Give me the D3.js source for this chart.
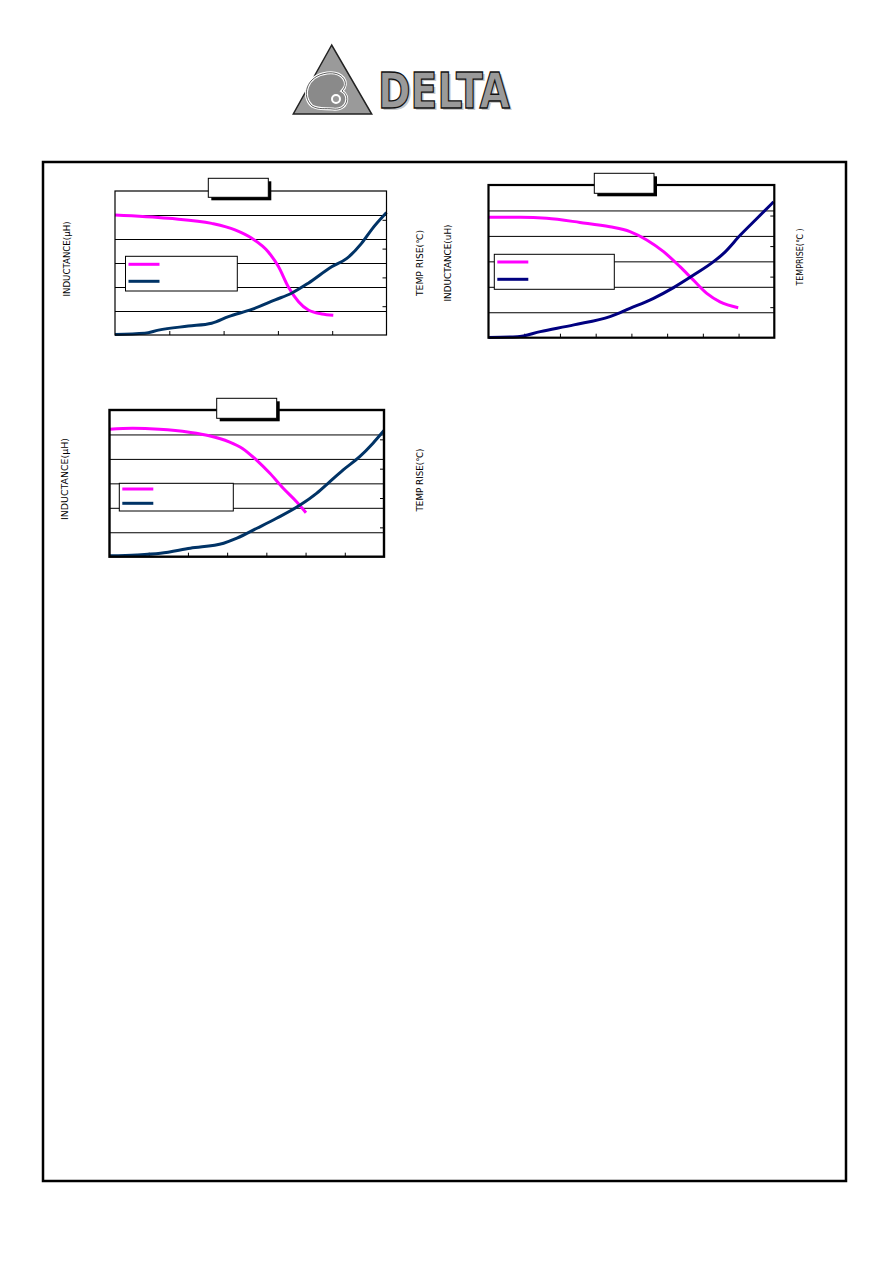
<!DOCTYPE html>
<html><head><meta charset="utf-8">
<script src="https://cdn.jsdelivr.net/npm/d3@7"></script>
<style>body{margin:0;background:#fff}svg{display:block}</style>
</head><body><svg id="c" width="892" height="1263"></svg>
<script>
// ---------- data (axis units) ----------
// Chart 1
const c1IndCurrent  = [0, 0.98, 1.78, 2.21, 2.52, 2.82, 3.01, 3.19, 3.38, 3.56, 3.81, 4.02];
const c1Inductance  = [5.0, 4.86, 4.65, 4.38, 4.03, 3.47, 2.85, 2.01, 1.39, 1.04, 0.875, 0.82];
const c1TempCurrent = [0, 0.55, 0.80, 1.35, 1.78, 2.09, 2.52, 2.95, 3.25, 3.56, 3.99, 4.27, 4.54, 4.73, 5.0];
const c1TempRise    = [0.02, 0.06, 0.17, 0.31, 0.41, 0.64, 0.89, 1.22, 1.45, 1.80, 2.37, 2.66, 3.18, 3.67, 4.25];
// Chart 2
const c2IndCurrent  = [0, 0.89, 1.63, 2.56, 3.40, 3.96, 4.43, 4.90, 5.36, 5.73, 6.11, 6.48, 6.99];
const c2Inductance  = [4.73, 4.73, 4.69, 4.53, 4.36, 4.17, 3.84, 3.38, 2.79, 2.27, 1.74, 1.41, 1.18];
const c2TempCurrent = [0, 0.8, 1.45, 2.39, 3.40, 3.96, 4.62, 5.18, 5.74, 6.30, 6.58, 7.05, 7.52, 7.98];
const c2TempRise    = [0.01, 0.03, 0.20, 0.42, 0.69, 0.96, 1.29, 1.64, 2.05, 2.49, 2.76, 3.36, 3.91, 4.45];
// Chart 3
const c3IndCurrent  = [0, 0.59, 1.27, 2.03, 2.54, 3.05, 3.39, 3.75, 4.09, 4.43, 4.77, 5.01];
const c3Inductance  = [5.21, 5.25, 5.21, 5.09, 4.95, 4.70, 4.43, 3.95, 3.41, 2.80, 2.25, 1.80];
const c3TempCurrent = [0, 0.70, 1.30, 2.06, 2.91, 3.25, 3.76, 4.26, 4.86, 5.28, 5.62, 5.96, 6.38, 6.72, 7.0];
const c3TempRise    = [0.03, 0.06, 0.12, 0.29, 0.46, 0.63, 0.97, 1.31, 1.76, 2.16, 2.56, 2.96, 3.41, 3.87, 4.30];

const leftTitles  = ["INDUCTANCE(μH)", "INDUCTANCE(uH)", "INDUCTANCE(μH)"];
const rightTitles = ["TEMP RISE(℃)", "TEMPRISE(℃ )", "TEMP RISE(℃)"];

// ---------- drawing ----------
const svg = d3.select("#c");
svg.append("rect").attr("width", 892).attr("height", 1263).attr("fill", "#fff");

// Logo
const logo = svg.append("g");
logo.append("polygon").attr("points", "331.7,45 293.3,114 371.7,114")
  .attr("fill", "#9a9a9a").attr("stroke", "#222").attr("stroke-width", 1.5);
const blob = "M312,106 C301,96 306,76 327,73 C343,71 350,83 342,91 C351,96 347,111 333,109 C325,108 319,110 312,106 Z";
logo.append("path").attr("d", blob).attr("fill", "#8a8a8a").attr("stroke", "#fff").attr("stroke-width", 3);
logo.append("path").attr("d", blob).attr("fill", "none").attr("stroke", "#333").attr("stroke-width", 0.8);
logo.append("circle").attr("cx", 336).attr("cy", 99).attr("r", 4)
  .attr("fill", "#9a9a9a").attr("stroke", "#fff").attr("stroke-width", 2);
logo.append("text").attr("x", 380).attr("y", 110)
  .attr("font-family", "DejaVu Sans").attr("font-weight", "bold").attr("font-size", 50)
  .attr("textLength", 132).attr("lengthAdjust", "spacingAndGlyphs")
  .attr("fill", "#c8c8c8").text("DELTA");
logo.append("text").attr("x", 378).attr("y", 108)
  .attr("font-family", "DejaVu Sans").attr("font-weight", "bold").attr("font-size", 50)
  .attr("textLength", 132).attr("lengthAdjust", "spacingAndGlyphs")
  .attr("fill", "#9a9a9a").attr("stroke", "#111").attr("stroke-width", 1.4).text("DELTA");

// Page frame
svg.append("rect").attr("x", 43).attr("y", 162).attr("width", 803).attr("height", 1019)
  .attr("fill", "none").attr("stroke", "#000").attr("stroke-width", 2.5);

function drawChart(o) {
  const g = svg.append("g");
  const x = d3.scaleLinear().domain([0, o.xMax]).range([o.x0, o.x1]);
  const yL = d3.scaleLinear().domain([0, 6]).range([o.y1, o.y0]);
  const yR = d3.scaleLinear().domain([0, 5]).range([o.y1, o.y0]);

  // gridlines
  g.append("g").attr("transform", `translate(${o.x0},0)`)
    .call(d3.axisLeft(yL).tickValues(d3.range(1, 6)).tickSize(-(o.x1 - o.x0)).tickFormat(""))
    .call(s => { s.select(".domain").remove(); s.selectAll("line").attr("stroke", "#000").attr("stroke-width", 1); });
  // right ticks (inward)
  g.append("g").attr("transform", `translate(${o.x1},0)`)
    .call(d3.axisRight(yR).tickValues(d3.range(1, 5)).tickSize(-4).tickFormat(""))
    .call(s => { s.select(".domain").remove(); s.selectAll("line").attr("stroke", "#000"); });
  // bottom ticks (inward)
  g.append("g").attr("transform", `translate(0,${o.y1})`)
    .call(d3.axisBottom(x).tickValues(d3.range(1, o.xMax)).tickSize(-4).tickFormat(""))
    .call(s => { s.select(".domain").remove(); s.selectAll("line").attr("stroke", "#000"); });

  // legend
  const lg = o.legend;
  g.append("rect").attr("x", lg.x).attr("y", lg.y).attr("width", lg.w).attr("height", lg.h)
    .attr("fill", "#fff").attr("stroke", "#000").attr("stroke-width", 1);
  g.append("line").attr("x1", lg.x + 3).attr("x2", lg.x + 34).attr("y1", lg.y + lg.l1).attr("y2", lg.y + lg.l1)
    .attr("stroke", "#ff00ff").attr("stroke-width", 3);
  g.append("line").attr("x1", lg.x + 3).attr("x2", lg.x + 34).attr("y1", lg.y + lg.l2).attr("y2", lg.y + lg.l2)
    .attr("stroke", o.blue).attr("stroke-width", 3);

  // curves
  const lineL = d3.line().x(d => x(d[0])).y(d => yL(d[1])).curve(d3.curveMonotoneX);
  const lineR = d3.line().x(d => x(d[0])).y(d => yR(d[1])).curve(d3.curveMonotoneX);
  g.append("path").datum(d3.zip(o.indX, o.ind)).attr("d", lineL)
    .attr("fill", "none").attr("stroke", "#ff00ff").attr("stroke-width", 3);
  g.append("path").datum(d3.zip(o.tX, o.t)).attr("d", lineR)
    .attr("fill", "none").attr("stroke", o.blue).attr("stroke-width", 3);

  // frame
  g.append("rect").attr("x", o.x0).attr("y", o.y0).attr("width", o.x1 - o.x0).attr("height", o.y1 - o.y0)
    .attr("fill", "none").attr("stroke", "#000").attr("stroke-width", o.frameW);

  // title box with shadow
  const t = o.title;
  g.append("rect").attr("x", t.x + 3).attr("y", t.y + 3).attr("width", t.w).attr("height", t.h).attr("fill", "#000");
  g.append("rect").attr("x", t.x).attr("y", t.y).attr("width", t.w).attr("height", t.h)
    .attr("fill", "#fff").attr("stroke", "#000").attr("stroke-width", 1);

  // axis titles
  [[o.lt, leftTitles[o.i]], [o.rt, rightTitles[o.i]]].forEach(([p, s]) => {
    g.append("text").attr("transform", `translate(${p.x},${p.y}) rotate(-90)`)
      .attr("text-anchor", "middle").attr("dominant-baseline", "central")
      .attr("font-family", "DejaVu Sans, Noto Sans CJK SC").attr("font-size", 9)
      .attr("textLength", p.len).attr("lengthAdjust", "spacingAndGlyphs")
      .attr("fill", "#000").text(s);
  });
}

drawChart({ i: 0, x0: 115, x1: 386.5, y0: 191, y1: 335, xMax: 5, frameW: 1.2, blue: "#003366",
  indX: c1IndCurrent, ind: c1Inductance, tX: c1TempCurrent, t: c1TempRise,
  legend: { x: 125.5, y: 256.3, w: 111.8, h: 34.7, l1: 8, l2: 25 },
  title: { x: 208.3, y: 178.3, w: 60, h: 19 },
  lt: { x: 66.7, y: 259, len: 75 }, rt: { x: 420, y: 263, len: 66 } });

drawChart({ i: 1, x0: 488.5, x1: 774.3, y0: 185, y1: 337.7, xMax: 8, frameW: 2.2, blue: "#000080",
  indX: c2IndCurrent, ind: c2Inductance, tX: c2TempCurrent, t: c2TempRise,
  legend: { x: 494.3, y: 254.3, w: 120, h: 35, l1: 7.7, l2: 25 },
  title: { x: 594.3, y: 173.3, w: 59.7, h: 20 },
  lt: { x: 448.3, y: 263, len: 77 }, rt: { x: 800, y: 257, len: 57 } });

drawChart({ i: 2, x0: 109.5, x1: 384, y0: 410, y1: 556.7, xMax: 7, frameW: 2.4, blue: "#003366",
  indX: c3IndCurrent, ind: c3Inductance, tX: c3TempCurrent, t: c3TempRise,
  legend: { x: 119.3, y: 483.3, w: 114, h: 27.7, l1: 5.7, l2: 20 },
  title: { x: 216.7, y: 398.3, w: 60, h: 20 },
  lt: { x: 65, y: 479, len: 82 }, rt: { x: 420, y: 480, len: 63 } });
</script></body></html>
